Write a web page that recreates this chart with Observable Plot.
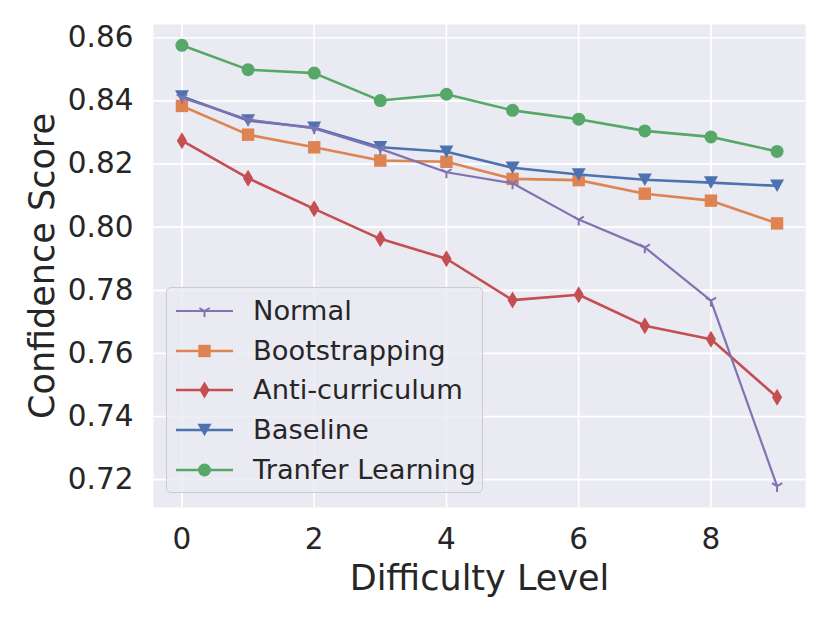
<!DOCTYPE html>
<html>
<head>
<meta charset="utf-8">
<script src="https://cdn.jsdelivr.net/npm/d3@7"></script>
<script src="https://cdn.jsdelivr.net/npm/@observablehq/plot@0.6"></script>
<style>
  body { margin: 0; background: #fff; font-family: "DejaVu Sans", sans-serif; }
  #wrap { position: relative; width: 830px; height: 623px; }
  #legend { position: absolute; left: 166px; top: 287px; width: 317px; height: 206px;
            border: 1.3px solid #cccccc; border-radius: 5px; background: rgba(234,234,242,0.8);
            box-sizing: border-box; }
  .row { position: absolute; left: 0; height: 40px; width: 310px; }
  .row svg { position: absolute; left: 8px; top: 0; }
  .row span { position: absolute; left: 86px; top: 50%; transform: translateY(-52%);
              font-size: 27.3px; color: #262626; white-space: nowrap; line-height: 1; }
</style>
</head>
<body>
<div id="wrap"></div>
<script>
// ---- data ----
const levels = [0, 1, 2, 3, 4, 5, 6, 7, 8, 9];
const normal        = [0.8410, 0.8341, 0.8313, 0.8248, 0.8174, 0.8139, 0.8024, 0.7936, 0.7767, 0.7180];
const bootstrapping = [0.8384, 0.8293, 0.8253, 0.8211, 0.8207, 0.8153, 0.8149, 0.8106, 0.8084, 0.8012];
const antiCurriculum= [0.8274, 0.8155, 0.8058, 0.7963, 0.7900, 0.7769, 0.7786, 0.7688, 0.7645, 0.7461];
const baseline      = [0.8414, 0.8338, 0.8315, 0.8253, 0.8239, 0.8188, 0.8167, 0.8150, 0.8141, 0.8131];
const transfer      = [0.8576, 0.8499, 0.8488, 0.8401, 0.8421, 0.8370, 0.8342, 0.8305, 0.8286, 0.8240];
const seriesNames  = ["Normal", "Bootstrapping", "Anti-curriculum", "Baseline", "Tranfer Learning"];
const seriesValues = [normal, bootstrapping, antiCurriculum, baseline, transfer];
const seriesColors = ["#8172B3", "#DD8452", "#C44E52", "#4C72B0", "#55A868"];
const xTicks = [0, 2, 4, 6, 8];
const yTicks = [0.72, 0.74, 0.76, 0.78, 0.80, 0.82, 0.84, 0.86];

// ---- marker shapes (matplotlib-like) ----
const triDown = { draw(c, size) { const r = Math.sqrt(size / Math.PI);
  c.moveTo(0, 0); c.lineTo(0, r);
  c.moveTo(0, 0); c.lineTo(-r * 0.866, -r * 0.5);
  c.moveTo(0, 0); c.lineTo(r * 0.866, -r * 0.5); } };
const square = { draw(c, size) { const r = Math.sqrt(size / Math.PI);
  c.moveTo(-r, -r); c.lineTo(r, -r); c.lineTo(r, r); c.lineTo(-r, r); c.closePath(); } };
const thinDiamond = { draw(c, size) { const r = Math.sqrt(size / Math.PI);
  c.moveTo(0, -r); c.lineTo(r * 0.6, 0); c.lineTo(0, r); c.lineTo(-r * 0.6, 0); c.closePath(); } };
const triangleDown = { draw(c, size) { const r = Math.sqrt(size / Math.PI);
  c.moveTo(-r, -r * 0.9); c.lineTo(r, -r * 0.9); c.lineTo(0, r * 0.9); c.closePath(); } };
const circle = { draw(c, size) { const r = Math.sqrt(size / Math.PI);
  c.moveTo(r, 0); c.arc(0, 0, r, 0, 2 * Math.PI); } };

const markerSpec = [
  { symbol: triDown, r: 6, stroked: true },
  { symbol: square, r: 6.2 },
  { symbol: thinDiamond, r: 8.5 },
  { symbol: triangleDown, r: 7 },
  { symbol: circle, r: 6.5 }
];
const lineWidths = [2.2, 2.6, 2.6, 2.6, 2.6];

const tables = seriesValues.map((vals, s) => levels.map((x, i) => ({ x, y: vals[i], s: seriesNames[s] })));

const drawOrder = [1, 2, 3, 4, 0];
const marks = [
  Plot.frame({ fill: "#EAEAF2", stroke: null }),
  Plot.gridX(xTicks, { stroke: "white", strokeOpacity: 1, strokeWidth: 1.7 }),
  Plot.gridY(yTicks, { stroke: "white", strokeOpacity: 1, strokeWidth: 1.7 }),
  Plot.axisX({ ticks: xTicks, tickSize: 0, tickPadding: 21, fontSize: 29.5, label: null }),
  Plot.axisY({ ticks: yTicks, tickFormat: d3.format(".2f"), tickSize: 0, tickPadding: 20, fontSize: 29.5, label: null }),
  Plot.text(["Difficulty Level"], { text: d => d, frameAnchor: "bottom", dy: 71, lineAnchor: "middle", textAnchor: "middle", fontSize: 35 }),
  Plot.text(["Confidence Score"], { text: d => d, frameAnchor: "left", dx: -111, rotate: -90, lineAnchor: "middle", textAnchor: "middle", fontSize: 35 })
];
for (const s of drawOrder) {
  const m = markerSpec[s];
  marks.push(Plot.line(tables[s], { x: "x", y: "y", stroke: seriesColors[s], strokeWidth: lineWidths[s] }));
  marks.push(Plot.dot(tables[s], m.stroked
    ? { x: "x", y: "y", symbol: m.symbol, r: m.r, fill: "none", stroke: seriesColors[s], strokeWidth: 2 }
    : { x: "x", y: "y", symbol: m.symbol, r: m.r, fill: seriesColors[s], stroke: null }));
}

const chart = Plot.plot({
  width: 830, height: 623,
  marginLeft: 153, marginRight: 25, marginTop: 24, marginBottom: 116,
  x: { domain: [-0.43, 9.43] },
  y: { domain: [0.7112, 0.8642] },
  style: { color: "#262626", fontFamily: "DejaVu Sans", background: "white", overflow: "visible" },
  marks
});
const wrap = document.getElementById("wrap");
wrap.appendChild(chart);

// ---- legend ----
const legend = document.createElement("div");
legend.id = "legend";
const rowCenters = [23, 62.5, 101.5, 141.5, 181.5];
seriesNames.forEach((name, s) => {
  const row = document.createElement("div");
  row.className = "row";
  row.style.top = (rowCenters[s] - 20) + "px";
  const m = markerSpec[s];
  const p = d3.path();
  m.symbol.draw(p, m.r * m.r * Math.PI);
  const svg = d3.create("svg").attr("width", 70).attr("height", 40);
  svg.append("line").attr("x1", 1).attr("x2", 58).attr("y1", 20).attr("y2", 20)
    .attr("stroke", seriesColors[s]).attr("stroke-width", lineWidths[s]);
  svg.append("path").attr("d", p.toString()).attr("transform", "translate(29.5,20)")
    .attr("fill", m.stroked ? "none" : seriesColors[s])
    .attr("stroke", m.stroked ? seriesColors[s] : "none").attr("stroke-width", 2);
  row.appendChild(svg.node());
  const span = document.createElement("span");
  span.textContent = name;
  row.appendChild(span);
  legend.appendChild(row);
});
wrap.appendChild(legend);
</script>
</body>
</html>
